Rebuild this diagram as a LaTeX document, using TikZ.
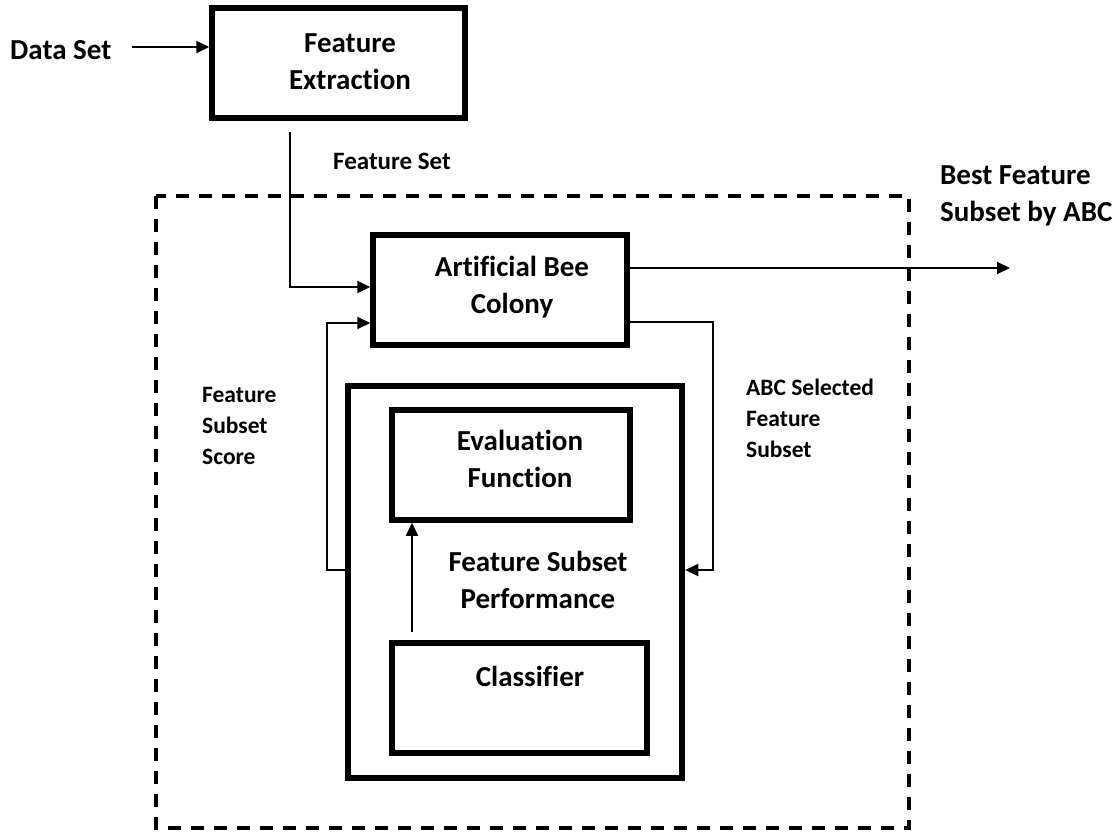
\documentclass[tikz,border=0pt]{standalone}
\usepackage{fontspec}
\setmainfont[Ligatures=NoCommon]{Carlito}
\usetikzlibrary{arrows.meta,calc}
\begin{document}
\begin{tikzpicture}[x=1pt,y=-1pt,
  box/.style={draw,line width=5.5pt,minimum width=#1,inner sep=0pt},
  bigtxt/.style={font=\bfseries\fontsize{29}{37}\selectfont,align=center,inner sep=0pt},
  smalltxt/.style={font=\bfseries\fontsize{23.5}{31}\selectfont,align=left,inner sep=0pt},
  conn/.style={line width=2pt},
  arr/.style={conn,-{Triangle[length=13pt,width=12pt]}},
  frame/.style={draw,line width=4pt,dash pattern=on 13pt off 10pt}]
\useasboundingbox (0,0) rectangle (1120,832);

% dashed enclosure of the selection loop
\draw[frame] (156,196) rectangle (909,828);

% boxes
\node[box=253pt,minimum height=110pt] (fe) at (338.5,63) {};
\node[box=254pt,minimum height=110pt] (abc) at (500,290) {};
\node[draw,line width=6.5pt,minimum width=334pt,minimum height=392pt,inner sep=0pt] (cont) at (515,582) {};
\node[box=238pt,minimum height=110pt] (eval) at (511,465) {};
\node[box=255pt,minimum height=110pt] (cls) at (519.5,698) {};

% texts
\node[bigtxt] (fetxt) at (350,62) {Feature\\Extraction};
\node[bigtxt] (abctxt) at (512,287) {Artificial Bee\\Colony};
\node[bigtxt] (evtxt) at (520,459) {Evaluation\\Function};
\node[bigtxt] (clstxt) at (530,676) {Classifier};
\node[bigtxt] (perf) at (538,580) {Feature Subset\\Performance};
\node[bigtxt,anchor=west] (ds) at (10,50) {Data Set};
\node[font=\bfseries\fontsize{25}{31}\selectfont,inner sep=0pt] (fs) at (392,161) {Feature Set};
\node[smalltxt,anchor=west] (score) at (202,426) {Feature\\Subset\\Score};
\node[smalltxt,anchor=west] (sel) at (746,418) {ABC Selected\\Feature\\Subset};
\node[bigtxt,align=left,anchor=west] (best) at (940,196) {Best Feature\\Subset by ABC};

% helper points
\coordinate (dsstart) at (132,47);
\coordinate (fsstart) at (290,132);
\coordinate (fbx) at (327,570);
\coordinate (selx) at (713,322);
\coordinate (outend) at (1010,268);
\coordinate (clstop) at (412,632);

% connectors
\draw[arr] (dsstart) -- (dsstart -| fe.west);
\draw[arr] (fsstart) |- (abc.west |- 0,287);
\draw[arr] (cont.west |- fbx) -- (fbx) |- (abc.west |- 0,323);
\draw[arr] (abc.east |- outend) -- (outend);
\draw[arr] (abc.east |- selx) -- (selx) |- (cont.east |- fbx);
\draw[arr] (clstop) -- (clstop |- eval.south);
\end{tikzpicture}
\end{document}
